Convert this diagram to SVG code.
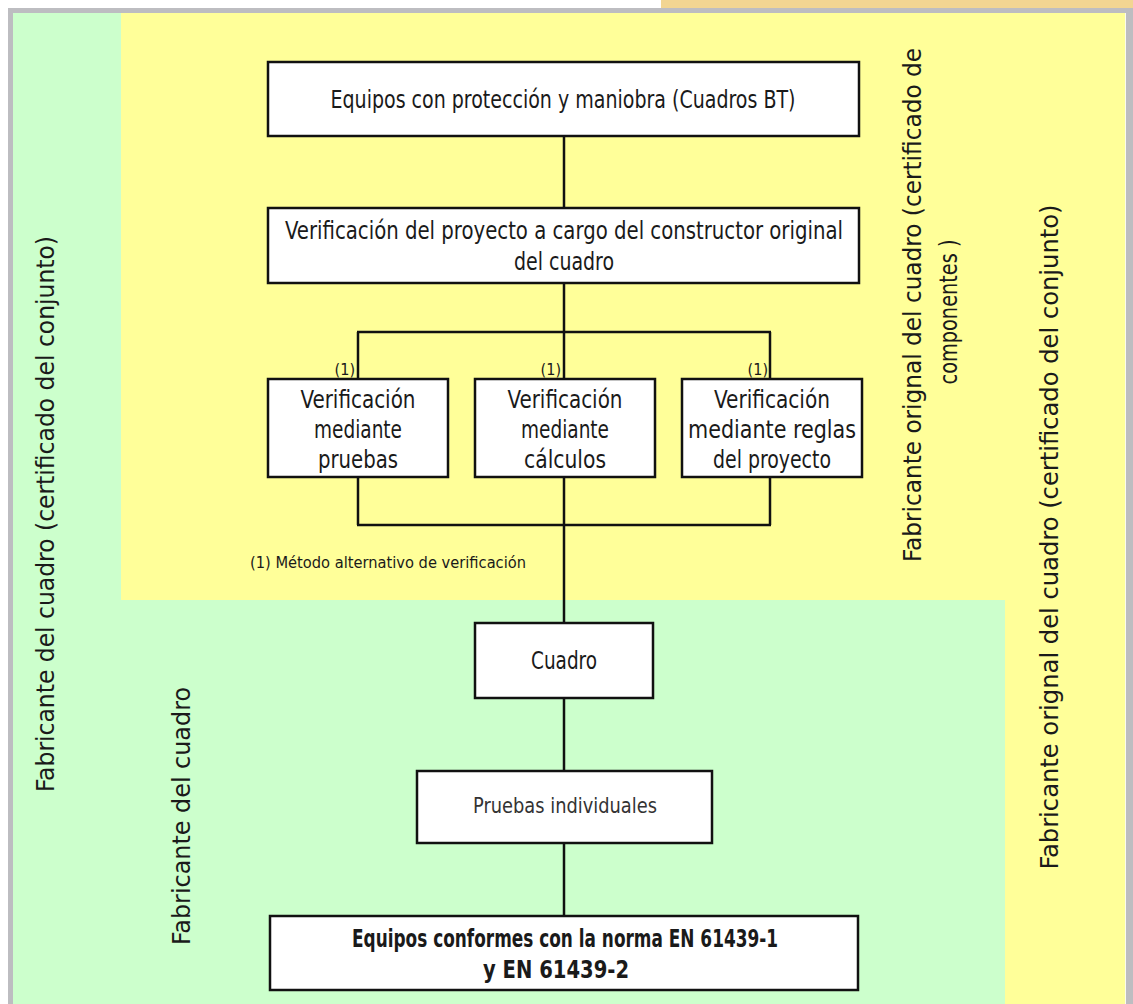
<svg xmlns="http://www.w3.org/2000/svg" width="1133" height="1004" viewBox="0 0 1133 1004">
<style>
.t{font-family:"DejaVu Sans Condensed","DejaVu Sans","Liberation Sans Narrow",sans-serif;fill:#1a1a1a;text-anchor:middle}
.b{font-size:24px}
.s{font-size:16px}
.r{font-size:24px}
.bold{font-weight:bold}
.box{fill:#ffffff;stroke:#111111;stroke-width:2.5}
.ln{fill:none;stroke:#111111;stroke-width:2.5}
</style>
<g id="background">
<rect x="0" y="0" width="1133" height="1004" fill="#ffffff"/>
<rect x="661" y="0" width="472" height="8" fill="#f2d592"/>
<rect x="8" y="8" width="1125" height="996" fill="#bdbdc1"/>
<rect x="13" y="13" width="1113" height="991" fill="#ccffcc"/>
<rect x="121" y="13" width="1005" height="587" fill="#ffff99"/>
<rect x="1005" y="600" width="121" height="404" fill="#ffff99"/>
<line x1="1125.5" y1="13" x2="1125.5" y2="1004" stroke="#fbfbef" stroke-width="1"/>
</g>
<g id="region-labels">
<text class="t r" transform="translate(54,514) rotate(-90)" textLength="556" lengthAdjust="spacingAndGlyphs">Fabricante del cuadro (certificado del conjunto)</text>
<text class="t r" transform="translate(190,816) rotate(-90)" textLength="258" lengthAdjust="spacingAndGlyphs">Fabricante del cuadro</text>
<text class="t r" transform="translate(921,305) rotate(-90)" textLength="514" lengthAdjust="spacingAndGlyphs">Fabricante orignal del cuadro (certificado de</text>
<text class="t r" transform="translate(957,312) rotate(-90)" textLength="145" lengthAdjust="spacingAndGlyphs">componentes )</text>
<text class="t r" transform="translate(1058,537) rotate(-90)" textLength="665" lengthAdjust="spacingAndGlyphs">Fabricante orignal del cuadro (certificado del conjunto)</text>
</g>
<g id="connectors">
<line class="ln" x1="564" y1="136" x2="564" y2="208"/>
<line class="ln" x1="564" y1="283" x2="564" y2="332"/>
<line class="ln" x1="357" y1="332" x2="771" y2="332"/>
<line class="ln" x1="358" y1="332" x2="358" y2="379"/>
<line class="ln" x1="564" y1="332" x2="564" y2="379"/>
<line class="ln" x1="770" y1="332" x2="770" y2="379"/>
<line class="ln" x1="358" y1="477" x2="358" y2="525"/>
<line class="ln" x1="770" y1="477" x2="770" y2="525"/>
<line class="ln" x1="357" y1="525" x2="771" y2="525"/>
<line class="ln" x1="564" y1="477" x2="564" y2="623"/>
<line class="ln" x1="564" y1="698" x2="564" y2="771"/>
<line class="ln" x1="564" y1="843" x2="564" y2="916"/>
</g>
<g id="footnote-marks">
<text class="t s" x="355" y="375" style="text-anchor:end">(1)</text>
<text class="t s" x="561" y="375" style="text-anchor:end">(1)</text>
<text class="t s" x="768" y="375" style="text-anchor:end">(1)</text>
<text class="t s" x="250" y="568" style="text-anchor:start" textLength="276" lengthAdjust="spacingAndGlyphs">(1) Método alternativo de verificación</text>
</g>
<g id="node-equipos">
<rect class="box" x="268" y="62" width="591" height="74"/>
<text class="t b" x="563" y="108" textLength="465" lengthAdjust="spacingAndGlyphs">Equipos con protección y maniobra (Cuadros BT)</text>
</g>
<g id="node-verificacion-proyecto">
<rect class="box" x="268" y="208" width="591" height="75"/>
<text class="t b" x="564" y="239" textLength="558" lengthAdjust="spacingAndGlyphs">Verificación del proyecto a cargo del constructor original</text>
<text class="t b" x="564" y="270" textLength="100" lengthAdjust="spacingAndGlyphs">del cuadro</text>
</g>
<g id="node-pruebas">
<rect class="box" x="268" y="379" width="180" height="98"/>
<text class="t b" x="358" y="408" textLength="115" lengthAdjust="spacingAndGlyphs">Verificación</text>
<text class="t b" x="358" y="438" textLength="88" lengthAdjust="spacingAndGlyphs">mediante</text>
<text class="t b" x="358" y="468" textLength="80" lengthAdjust="spacingAndGlyphs">pruebas</text>
</g>
<g id="node-calculos">
<rect class="box" x="475" y="379" width="180" height="98"/>
<text class="t b" x="565" y="408" textLength="115" lengthAdjust="spacingAndGlyphs">Verificación</text>
<text class="t b" x="565" y="438" textLength="88" lengthAdjust="spacingAndGlyphs">mediante</text>
<text class="t b" x="565" y="468" textLength="82" lengthAdjust="spacingAndGlyphs">cálculos</text>
</g>
<g id="node-reglas">
<rect class="box" x="682" y="379" width="180" height="98"/>
<text class="t b" x="772" y="408" textLength="116" lengthAdjust="spacingAndGlyphs">Verificación</text>
<text class="t b" x="772" y="438" textLength="168" lengthAdjust="spacingAndGlyphs">mediante reglas</text>
<text class="t b" x="772" y="468" textLength="118" lengthAdjust="spacingAndGlyphs">del proyecto</text>
</g>
<g id="node-cuadro">
<rect class="box" x="475" y="623" width="178" height="75"/>
<text class="t b" x="564" y="669" textLength="66" lengthAdjust="spacingAndGlyphs">Cuadro</text>
</g>
<g id="node-pruebas-individuales">
<rect class="box" x="417" y="771" width="295" height="72"/>
<text class="t" x="565" y="813" style="font-size:21px;fill:#333333" textLength="184" lengthAdjust="spacingAndGlyphs">Pruebas individuales</text>
</g>
<g id="node-equipos-conformes">
<rect class="box" x="270" y="916" width="588" height="74"/>
<text class="t b bold" x="565" y="947" textLength="426" lengthAdjust="spacingAndGlyphs">Equipos conformes con la norma EN 61439-1</text>
<text class="t b bold" x="556" y="978" textLength="146" lengthAdjust="spacingAndGlyphs">y EN 61439-2</text>
</g>
</svg>
